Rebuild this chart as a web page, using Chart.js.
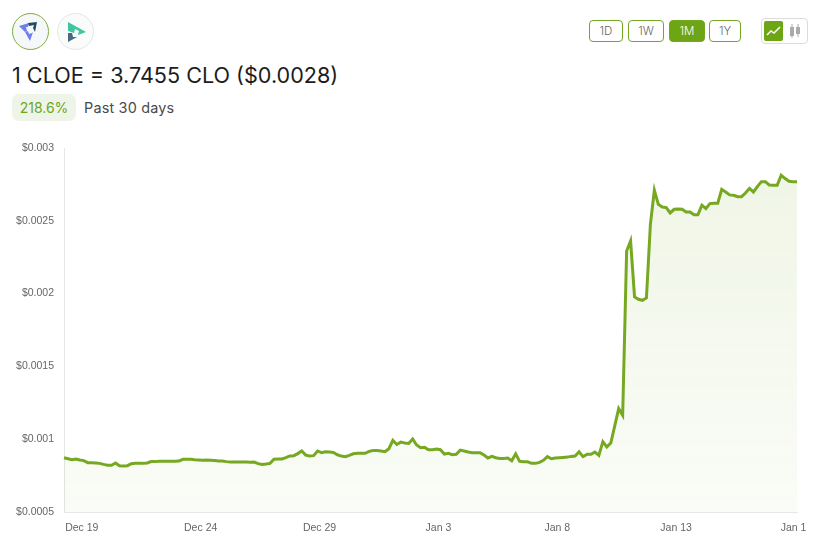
<!DOCTYPE html>
<html>
<head>
<meta charset="utf-8">
<title>CLOE / CLO</title>
<script src="https://cdn.jsdelivr.net/npm/chart.js@4"></script>
<style>
    html, body { margin: 0; padding: 0; background: #fff; }
    body { width: 823px; height: 549px; position: relative; overflow: hidden; font-family: Inter, "Open Sans", sans-serif; color: #1c1c1c; }
    .abs { position: absolute; box-sizing: border-box; }
    .coin { width: 37px; height: 37px; border-radius: 50%; background: #f6f7f9; }
    .title { left: 12px; top: 62px; font-size: 21.6px; line-height: 26px; white-space: nowrap; }
    .pill { left: 12px; top: 94px; width: 64px; height: 27px; border-radius: 7px; background: #eef5e8; color: #6ea51e; font-size: 14px; line-height: 27px; text-align: center; }
    .past { left: 84px; top: 94px; font-size: 14.4px; letter-spacing: 0.2px; line-height: 27px; color: #4a4a4a; white-space: nowrap; }
    .range { top: 20px; height: 22px; border: 1px solid #74a824; border-radius: 4px; font-size: 11.5px; font-weight: 300; line-height: 20px; text-align: center; color: #666; background: #fff; }
    .range.on { background: #6ea514; color: #fff; }
    .toggle { left: 761px; top: 18px; width: 47px; height: 26px; border: 1px solid #dcdcdc; border-radius: 4px; }
    .toggle-on { left: 764px; top: 21px; width: 19px; height: 20px; border-radius: 2px; background: #6ea514; }
    #chart { position: absolute; left: 0; top: 131px; }
</style>
</head>
<body>
    <div class="abs coin" style="left:12px;top:13px;border:1.5px solid #7fae3c;">
        <svg width="34" height="34" viewBox="0 0 34 34">
            <polygon points="6,12 16,9 15,13 13,13 14,17 12,18" fill="#6c80ee"/>
            <polygon points="15,9 24,8 22,18 20,14 21,11 16,12" fill="#1f4a68"/>
            <polygon points="12,18 15,17 16,20 19,19 20,18 17,27" fill="#6c80ee"/>
        </svg>
    </div>
    <div class="abs coin" style="left:57px;top:13px;border:1px solid #e4e7ea;background:#fafbfb;">
        <svg width="35" height="35" viewBox="0 0 35 35">
            <polygon points="10,8 28,18 20,21 21,17 17,15 16,19 10,17" fill="#3fc6a0"/>
            <polygon points="10,19 14,19 15,23 19,23 10,28" fill="#4a6a80"/>
        </svg>
    </div>

    <div class="abs title">1 CLOE = 3.7455 CLO ($0.0028)</div>
    <div class="abs pill">218.6%</div>
    <div class="abs past">Past 30 days</div>

    <div class="abs range" style="left:589px;width:34px;">1D</div>
    <div class="abs range" style="left:628px;width:36px;">1W</div>
    <div class="abs range on" style="left:669px;width:36px;">1M</div>
    <div class="abs range" style="left:709px;width:32px;">1Y</div>

    <div class="abs toggle"></div>
    <div class="abs toggle-on">
        <svg width="19" height="20" viewBox="0 0 19 20">
            <polyline points="3,14 7,10 10,12 16,6" fill="none" stroke="#fff" stroke-width="1.5"/>
        </svg>
    </div>
    <svg class="abs" style="left:788px;top:23px;" width="15" height="16" viewBox="0 0 15 16">
        <line x1="4" y1="1" x2="4" y2="15" stroke="#aaa"/>
        <rect x="2" y="4" width="4" height="9" fill="#aaa"/>
        <line x1="10" y1="1" x2="10" y2="14" stroke="#aaa"/>
        <rect x="8" y="4" width="4" height="7" fill="#aaa"/>
    </svg>

    <canvas id="chart" width="823" height="418"></canvas>

<script>
const xTickLabels = { 5: 'Dec 19', 35: 'Dec 24', 65: 'Dec 29', 95: 'Jan 3', 125: 'Jan 8', 155: 'Jan 13', 185: 'Jan 1 ' };
const yTickLabels = { '0.0005': '$0.0005', '0.001': '$0.001', '0.0015': '$0.0015', '0.002': '$0.002', '0.0025': '$0.0025', '0.003': '$0.003' };

const prices = [
    0.000873, 0.000866, 0.000859, 0.000864, 0.000857, 0.000853, 0.000839, 0.000839, 0.000837, 0.000834,
    0.000827, 0.000821, 0.000821, 0.000837, 0.000818, 0.000816, 0.000818, 0.000832, 0.000834, 0.000834,
    0.000834, 0.000837, 0.000846, 0.000846, 0.000848, 0.000848, 0.000848, 0.000848, 0.000848, 0.000850,
    0.000862, 0.000862, 0.000862, 0.000859, 0.000857, 0.000855, 0.000857, 0.000855, 0.000853, 0.000850,
    0.000850, 0.000846, 0.000843, 0.000843, 0.000843, 0.000843, 0.000843, 0.000841, 0.000843, 0.000832,
    0.000827, 0.000830, 0.000834, 0.000862, 0.000864, 0.000864, 0.000873, 0.000885, 0.000887, 0.000901,
    0.000919, 0.000891, 0.000884, 0.000887, 0.000919, 0.000907, 0.000914, 0.000912, 0.000909, 0.000893,
    0.000884, 0.000880, 0.000889, 0.000900, 0.000903, 0.000903, 0.000903, 0.000916, 0.000923, 0.000923,
    0.000919, 0.000914, 0.000935, 0.000992, 0.000964, 0.000980, 0.000974, 0.000971, 0.001001, 0.000960,
    0.000942, 0.000944, 0.000928, 0.000928, 0.000932, 0.000928, 0.000898, 0.000903, 0.000893, 0.000896,
    0.000925, 0.000919, 0.000912, 0.000907, 0.000907, 0.000907, 0.000891, 0.000871, 0.000882, 0.000873,
    0.000868, 0.000868, 0.000871, 0.000852, 0.000900, 0.000848, 0.000845, 0.000845, 0.000834, 0.000834,
    0.000841, 0.000855, 0.000880, 0.000866, 0.000871, 0.000873, 0.000875, 0.000877, 0.000882, 0.000884,
    0.000914, 0.000880, 0.000896, 0.000896, 0.000912, 0.000889, 0.000983, 0.000947, 0.000974, 0.001091,
    0.001210, 0.001164, 0.002293, 0.002362, 0.001977, 0.001961, 0.001954, 0.001970, 0.002476, 0.002710,
    0.002613, 0.002595, 0.002591, 0.002554, 0.002579, 0.002581, 0.002579, 0.002561, 0.002561, 0.002542,
    0.002542, 0.002607, 0.002584, 0.002618, 0.002620, 0.002620, 0.002716, 0.002698, 0.002678, 0.002675,
    0.002666, 0.002666, 0.002691, 0.002723, 0.002698, 0.002735, 0.002769, 0.002769, 0.002746, 0.002744,
    0.002744, 0.002813, 0.002790, 0.002771, 0.002769, 0.002769
];

const labels = prices.map((p, i) => xTickLabels[i] || '');

const ctx = document.getElementById('chart').getContext('2d');

new Chart(ctx, {
    type: 'line',
    data: {
        labels: labels,
        datasets: [{
            data: prices,
            borderColor: '#76a821',
            borderWidth: 3,
            pointRadius: 0,
            tension: 0,
            fill: true,
            backgroundColor: (c) => {
                const area = c.chart.chartArea;
                if (!area) return 'transparent';
                const g = c.chart.ctx.createLinearGradient(0, area.top, 0, area.bottom);
                g.addColorStop(0, 'rgba(110,165,20,0.11)');
                g.addColorStop(1, 'rgba(110,165,20,0.035)');
                return g;
            }
        }]
    },
    options: {
        responsive: false,
        animation: false,
        layout: { padding: { top: 17, right: 26, left: 0, bottom: 0 } },
        plugins: { legend: { display: false }, tooltip: { enabled: false } },
        scales: {
            x: {
                type: 'category',
                offset: false,
                afterFit: (s) => { s.height = 37; },
                grid: { drawOnChartArea: false, drawTicks: false },
                border: { color: '#e6e6e6' },
                ticks: {
                    autoSkip: false,
                    maxRotation: 0,
                    minRotation: 0,
                    padding: 10,
                    labelOffset: -2,
                    color: '#666',
                    font: { family: '"Liberation Sans"', size: 10.5 },
                    callback: function(value) { return this.getLabelForValue(value) || null; }
                }
            },
            y: {
                min: 0.0005,
                max: 0.003,
                afterFit: (s) => { s.width = 64; },
                grid: { drawOnChartArea: false, drawTicks: false },
                border: { color: '#e6e6e6' },
                ticks: {
                    stepSize: 0.0005,
                    padding: 10,
                    color: '#666',
                    font: { family: '"Liberation Sans"', size: 10.5 },
                    callback: (value) => yTickLabels[String(+value.toFixed(4))]
                }
            }
        }
    }
});
</script>
</body>
</html>
